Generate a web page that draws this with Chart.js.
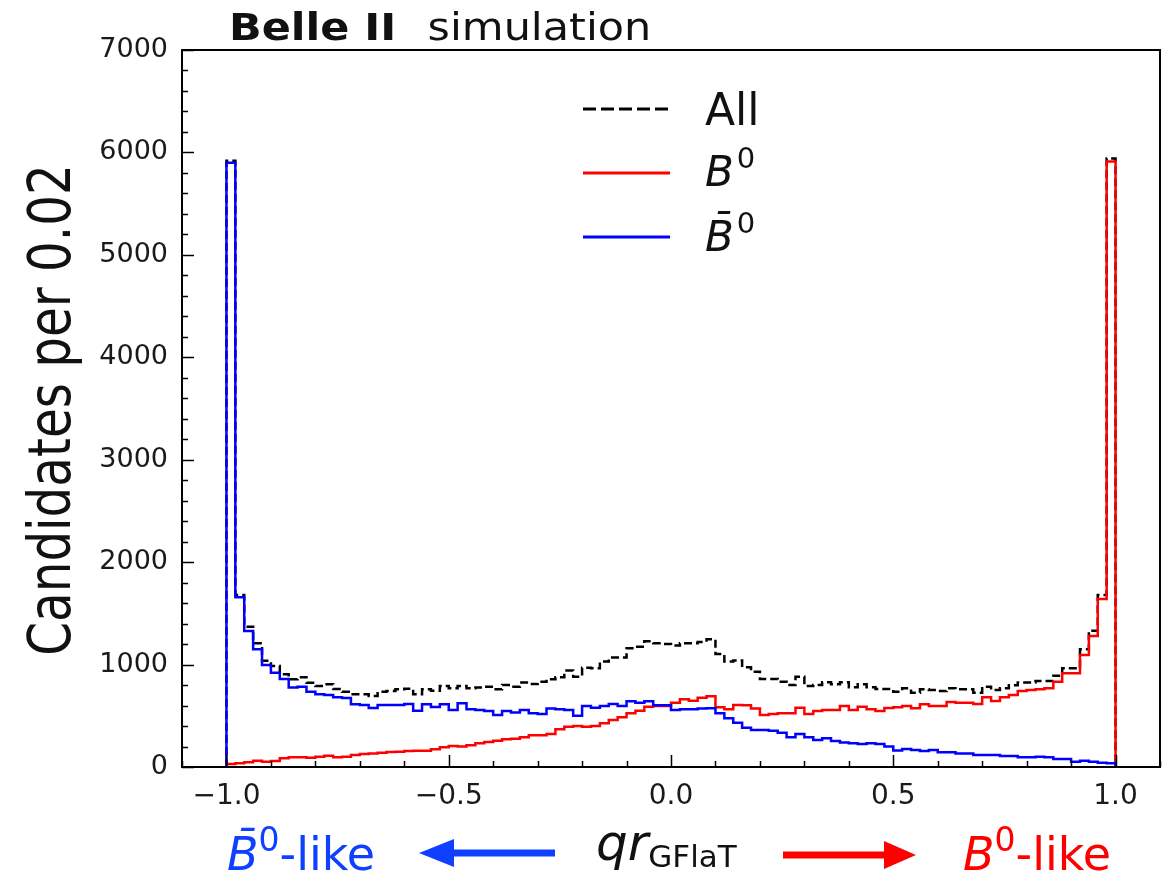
<!DOCTYPE html>
<html>
<head>
<meta charset="utf-8">
<script src="https://cdn.jsdelivr.net/npm/chart.js@4.4.1/dist/chart.umd.min.js"></script>
<style>
  html, body { margin:0; padding:0; background:#fff; }
  #wrap { position:relative; width:1171px; height:874px; overflow:hidden; background:#fff; }
  canvas { position:absolute; left:0; top:0; }
  .t { position:absolute; white-space:nowrap; line-height:1; font-family:"DejaVu Sans", sans-serif; color:#111; }
  .it { font-style:italic; }
  .sup { position:relative; }
  svg { position:absolute; left:0; top:0; }
</style>
</head>
<body>
<div id="wrap">
  <canvas id="c" width="1171" height="874"></canvas>
  <svg width="1171" height="874">
    <line x1="583" y1="109" x2="670" y2="109" stroke="#000" stroke-width="3" stroke-dasharray="13 5"/>
    <line x1="583" y1="173" x2="670" y2="173" stroke="#ff0000" stroke-width="3"/>
    <line x1="583" y1="237" x2="670" y2="237" stroke="#0000ff" stroke-width="3"/>
    <line x1="450" y1="853" x2="555" y2="853" stroke="#1040ff" stroke-width="7"/>
    <polygon points="419,853 454,839 454,867" fill="#1040ff"/>
    <line x1="783" y1="855" x2="888" y2="855" stroke="#ff0000" stroke-width="7"/>
    <polygon points="916,855 884,841 884,869" fill="#ff0000"/>
  </svg>
  <div class="t" style="left:229px; top:9px; font-size:37px; transform:scaleX(1.16); transform-origin:0 0;"><b>Belle II</b><span style="margin-left:27px;">simulation</span></div>
  <div class="t" style="left:49px; top:410px; font-size:59px; transform:translate(-50%,-50%) rotate(-90deg) scaleX(0.82);">Candidates per 0.02</div>
  <div class="t" style="left:705px; top:88px; font-size:44px;">All</div>
  <div class="t" style="left:705px; top:151px; font-size:42px;"><span class="it">B</span><span class="sup" style="font-size:29px; top:-18px; margin-left:3px;">0</span></div>
  <div class="t" style="left:705px; top:216px; font-size:42px;"><span class="it">B̄</span><span class="sup" style="font-size:29px; top:-18px; margin-left:3px;">0</span></div>
  <div class="t" style="left:227px; top:831px; font-size:46px; color:#1040ff;"><span class="it">B̄</span><span class="sup" style="font-size:33px; top:-19px;">0</span>-like</div>
  <div class="t" style="left:596px; top:818px; font-size:50px;"><span class="it">qr</span><span class="sup" style="font-size:31px; top:7px;">GFlaT</span></div>
  <div class="t" style="left:963px; top:831px; font-size:46px; color:#ff0000;"><span class="it">B</span><span class="sup" style="font-size:33px; top:-19px;">0</span>-like</div>
</div>
<script>
// ---- data ----
const binLowEdge = -1.0;
const binWidth = 0.02;

const allCounts = [
  5918, 1680, 1370, 1208, 1038, 986, 905, 856, 876, 823,
  791, 807, 762, 735, 710, 710, 693, 735, 741, 758,
  765, 710, 758, 745, 791, 768, 791, 768, 775, 784,
  758, 801, 784, 824, 810, 833, 857, 876, 941, 882,
  970, 964, 1029, 1068, 1068, 1159, 1175, 1227, 1208, 1201,
  1185, 1208, 1208, 1221, 1247, 1103, 1029, 1039, 973, 931,
  859, 859, 833, 801, 882, 791, 801, 827, 807, 827,
  778, 807, 778, 762, 762, 735, 768, 726, 758, 752,
  741, 768, 758, 758, 726, 784, 752, 768, 797, 824,
  824, 840, 840, 892, 964, 964, 1149, 1331, 1680, 5940
];

const b0Counts = [
  29, 36, 46, 62, 52, 59, 85, 95, 95, 91,
  101, 111, 95, 101, 117, 127, 133, 140, 146, 150,
  156, 159, 159, 173, 192, 205, 199, 212, 231, 244,
  257, 270, 277, 290, 309, 309, 322, 368, 394, 400,
  394, 400, 426, 459, 485, 524, 550, 589, 596, 596,
  628, 661, 648, 677, 690, 583, 563, 605, 602, 570,
  508, 518, 524, 524, 579, 518, 547, 557, 557, 596,
  557, 589, 563, 547, 576, 583, 596, 573, 612, 596,
  596, 635, 628, 628, 615, 680, 645, 680, 703, 742,
  752, 758, 768, 833, 915, 915, 1094, 1279, 1640, 5911
];

const b0barCounts = [
  5900, 1657, 1328, 1149, 996, 921, 859, 775, 784, 735,
  710, 703, 680, 674, 612, 605, 576, 605, 605, 605,
  615, 550, 612, 586, 612, 557, 622, 563, 557, 547,
  508, 547, 531, 557, 524, 518, 570, 563, 557, 501,
  596, 579, 596, 615, 596, 641, 628, 641, 602, 602,
  557, 563, 563, 570, 573, 524, 475, 433, 384, 361,
  361, 355, 335, 290, 322, 290, 264, 280, 254, 238,
  231, 225, 231, 225, 199, 160, 176, 166, 156, 166,
  143, 143, 133, 133, 117, 117, 117, 107, 107, 94,
  94, 101, 94, 78, 78, 52, 62, 52, 42, 36
];

const xMajorTicks = [-1.0, -0.5, 0.0, 0.5, 1.0];
const xMinorStep = 0.1;
const yMajorTicks = [0, 1000, 2000, 3000, 4000, 5000, 6000, 7000];
const yMinorStep = 200;
const xRange = [-1.1, 1.1];
const yRange = [0, 7000];

// ---- build step-histogram outlines from the bins ----
function histPoints(counts) {
  const pts = [{ x: binLowEdge, y: 0 }];
  counts.forEach((c, i) => pts.push({ x: +(binLowEdge + i * binWidth).toFixed(2), y: c }));
  pts.push({ x: +(binLowEdge + counts.length * binWidth).toFixed(2), y: 0 });
  return pts;
}

const frameTicks = {
  id: 'frameTicks',
  afterDatasetsDraw(chart) {
    const { ctx, chartArea: a, scales: { x, y } } = chart;
    ctx.save();
    ctx.strokeStyle = '#000';
    ctx.lineWidth = 2;
    ctx.strokeRect(a.left, a.top, a.right - a.left, a.bottom - a.top);
    ctx.lineWidth = 1.5;
    ctx.beginPath();
    const nx = Math.round((xRange[1] - xRange[0]) / xMinorStep);
    for (let k = 0; k <= nx; k++) {
      const v = +(xRange[0] + k * xMinorStep).toFixed(2);
      const major = xMajorTicks.some(m => Math.abs(m - v) < 1e-9);
      const px = Math.round(x.getPixelForValue(v)) + 0.5;
      const len = major ? 12 : 6;
      ctx.moveTo(px, a.bottom);
      ctx.lineTo(px, a.bottom - len);
    }
    for (let v = yRange[0]; v <= yRange[1]; v += yMinorStep) {
      const major = yMajorTicks.includes(v);
      const py = Math.round(y.getPixelForValue(v)) + 0.5;
      const len = major ? 12 : 6;
      ctx.moveTo(a.left, py);
      ctx.lineTo(a.left + len, py);
    }
    ctx.stroke();
    ctx.restore();
  }
};

new Chart(document.getElementById('c'), {
  type: 'line',
  data: {
    datasets: [
      { label: 'All', data: histPoints(allCounts), borderColor: '#000000', borderDash: [8, 4], borderWidth: 2.5, order: 3 },
      { label: 'B0', data: histPoints(b0Counts), borderColor: '#ff0000', borderWidth: 2.5, order: 2 },
      { label: 'B0bar', data: histPoints(b0barCounts), borderColor: '#0000ff', borderWidth: 2.5, order: 1 }
    ]
  },
  options: {
    responsive: false,
    animation: false,
    events: [],
    elements: {
      point: { radius: 0 },
      line: { stepped: true, tension: 0, fill: false, borderJoinStyle: 'miter', borderCapStyle: 'butt' }
    },
    layout: { padding: { left: 0, top: 50, right: 11, bottom: 0 } },
    plugins: { legend: { display: false }, tooltip: { enabled: false }, title: { display: false } },
    scales: {
      x: {
        type: 'linear',
        min: xRange[0], max: xRange[1],
        grid: { display: false, drawTicks: false },
        border: { display: false },
        afterBuildTicks: s => { s.ticks = xMajorTicks.map(v => ({ value: v })); },
        afterFit: s => { s.height = 107; },
        ticks: {
          font: { family: 'DejaVu Sans', size: 28 },
          color: '#1a1a1a',
          padding: 13,
          maxRotation: 0,
          callback: v => (v < 0 ? '\u2212' : '') + Math.abs(v).toFixed(1)
        }
      },
      y: {
        type: 'linear',
        min: yRange[0], max: yRange[1],
        grid: { display: false, drawTicks: false },
        border: { display: false },
        afterBuildTicks: s => { s.ticks = yMajorTicks.map(v => ({ value: v })); },
        afterFit: s => { s.width = 182; },
        ticks: {
          font: { family: 'DejaVu Sans', size: 27 },
          color: '#1a1a1a',
          padding: 14,
          callback: v => String(v)
        }
      }
    }
  },
  plugins: [frameTicks]
});
</script>
</body>
</html>
